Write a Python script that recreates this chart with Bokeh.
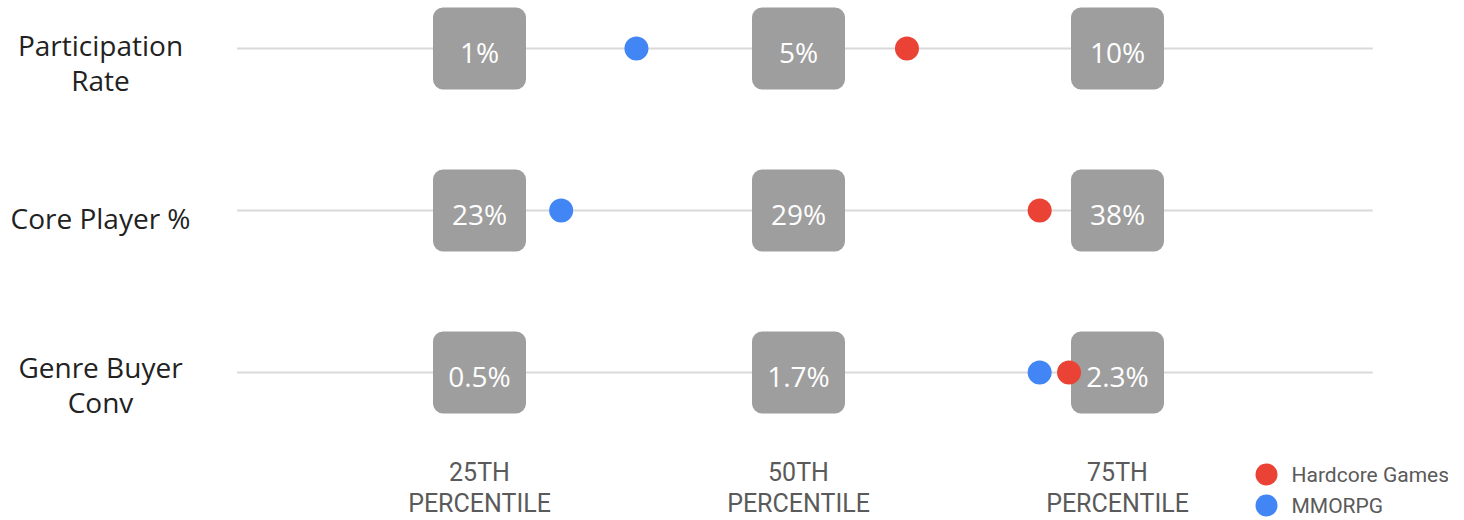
from bokeh.plotting import figure
from bokeh.models import Range1d, ColumnDataSource
from bokeh.core.properties import value
from bokeh.embed import file_html
from bokeh.resources import INLINE

# ---- data ----
metrics = ["Participation\nRate", "Core Player %", "Genre Buyer\nConv"]
percentiles = [25, 50, 75]
percentile_labels = ["25TH", "50TH", "75TH"]
benchmark_labels = [
    ["1%", "5%", "10%"],
    ["23%", "29%", "38%"],
    ["0.5%", "1.7%", "2.3%"],
]
# position of each genre on the percentile scale, per metric
mmorpg_pct = [37.3, 31.4, 68.9]
hardcore_pct = [58.5, 68.9, 71.2]
series_names = ["Hardcore Games", "MMORPG"]

RED = "#ea4335"
BOX = "#9e9e9e"
BLUE = "#4285f4"
LINE = "#d9d9d9"

W, H = 1448, 520
PX_PER_PCT = 12.76
x0 = 25 - 479 / PX_PER_PCT
x1 = x0 + W / PX_PER_PCT
ROW_PX = 162
y0 = -48 / ROW_PX
y1 = y0 + H / ROW_PX

p = figure(width=W, height=H, output_backend="svg", toolbar_location=None,
           x_range=Range1d(x0, x1), y_range=Range1d(y1, y0),
           min_border=0, min_border_left=0, min_border_right=0,
           min_border_top=0, min_border_bottom=0)
p.xaxis.visible = False
p.yaxis.visible = False
p.grid.visible = False
p.outline_line_color = None
p.background_fill_color = "white"
p.border_fill_color = "white"

rows = list(range(len(metrics)))

# horizontal lines
p.segment(x0=[6] * 3, x1=[95] * 3, y0=rows, y1=rows, line_color=LINE, line_width=2)

# boxes
bx, by, bt = [], [], []
for r in rows:
    for j, pc in enumerate(percentiles):
        bx.append(pc)
        by.append(r)
        bt.append(benchmark_labels[r][j])
bsrc = ColumnDataSource(dict(x=bx, y=by, t=bt))
p.rect(x="x", y="y", width=93, height=82, width_units="screen", height_units="screen",
       fill_color=BOX, line_color=None, border_radius=10, source=bsrc)

# dots
p.scatter(x=hardcore_pct, y=rows, size=24, fill_color=RED, line_color=None)
p.scatter(x=mmorpg_pct, y=rows, size=24, fill_color=BLUE, line_color=None)

p.text(x="x", y="y", text="t", source=bsrc, text_color="white",
       text_font=value("Open Sans"), text_font_size="28px",
       text_align="center", text_baseline="middle", y_offset=3)

# row labels
label_x = x0 + 100 / PX_PER_PCT
p.text(x=[label_x] * 3, y=rows, text=metrics, text_color="#222222",
       text_font=value("Open Sans"), text_font_size="28px",
       text_align="center", text_baseline="middle", y_offset=[14, 7, 12],
       text_line_height=0.92)

# percentile labels
p.text(x=percentiles, y=[2] * 3, text=percentile_labels, text_color="#5a5a5a",
       text_font=value("Roboto"), text_font_size="25px",
       text_align="center", text_baseline="middle", y_offset=100)
p.text(x=percentiles, y=[2] * 3, text=["PERCENTILE"] * 3, text_color="#5a5a5a",
       text_font=value("Roboto"), text_font_size="25px",
       text_align="center", text_baseline="middle", y_offset=131)

# legend
lx = x0 + 1266 / PX_PER_PCT
leg_src = ColumnDataSource(dict(x=[lx, lx], y=[y0 + 474 / ROW_PX, y0 + 505 / ROW_PX],
                                c=[RED, BLUE], t=series_names))
p.scatter(x="x", y="y", size=22, fill_color="c", line_color=None, source=leg_src)
p.text(x="x", y="y", text="t", source=leg_src, text_color="#5a5a5a",
       text_font=value("Roboto"), text_font_size="21px",
       text_align="left", text_baseline="middle", x_offset=25)

open("out.html", "w").write(file_html(p, INLINE))
